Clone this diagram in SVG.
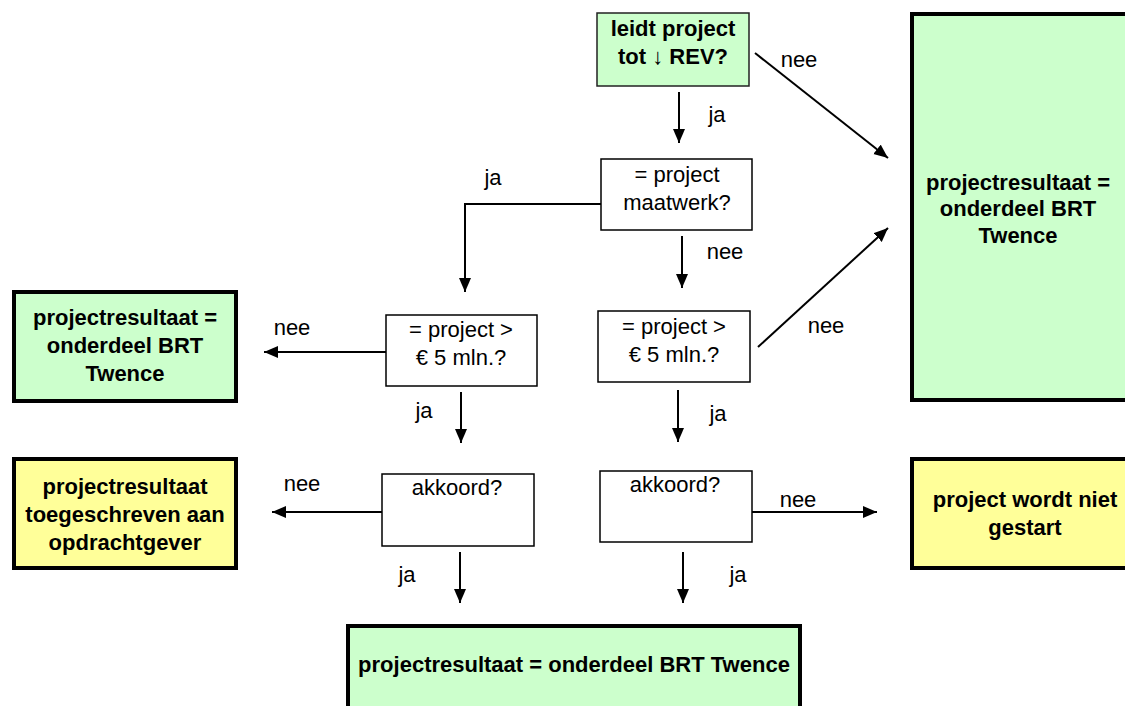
<svg xmlns="http://www.w3.org/2000/svg" width="1125" height="706" viewBox="0 0 1125 706">
<style>
text{font-family:"Liberation Sans",Arial,sans-serif;font-size:22px;fill:#000;text-anchor:middle}
.b{font-weight:bold}
.thick{stroke:#000;stroke-width:4}
.green{fill:#ccffcc}
.yellow{fill:#ffff99}
.dec{fill:#fff;stroke:#000;stroke-width:1.5}
.top{fill:#ccffcc;stroke:#222;stroke-width:1.5}
.conn line,.conn polyline{stroke:#000;stroke-width:2;fill:none;marker-end:url(#ah)}
</style>
<defs>
<marker id="ah" markerUnits="userSpaceOnUse" markerWidth="16" markerHeight="14" refX="14" refY="6" orient="auto">
<path d="M0,0 L14,6 L0,12 z" fill="#000"/>
</marker>
</defs>
<rect width="1125" height="706" fill="#fff"/>
<g class="conn">
<line x1="679" y1="92" x2="679" y2="143"/>
<line x1="755" y1="53" x2="888" y2="158"/>
<polyline points="601,204 465,204 465,292"/>
<line x1="682" y1="236" x2="682" y2="288"/>
<line x1="386" y1="352" x2="264" y2="352"/>
<line x1="758" y1="347" x2="888" y2="228"/>
<line x1="461" y1="392" x2="461" y2="443"/>
<line x1="678" y1="390" x2="678" y2="442"/>
<line x1="382" y1="512" x2="272" y2="512"/>
<line x1="752" y1="512" x2="877" y2="512"/>
<line x1="460" y1="552" x2="460" y2="603"/>
<line x1="683" y1="552" x2="683" y2="603"/>
</g>
<g id="labels">
<text x="717" y="122">ja</text>
<text x="799" y="67">nee</text>
<text x="493" y="185">ja</text>
<text x="725" y="259">nee</text>
<text x="292" y="335">nee</text>
<text x="826" y="333">nee</text>
<text x="424" y="418">ja</text>
<text x="718" y="421">ja</text>
<text x="302" y="491">nee</text>
<text x="798" y="507">nee</text>
<text x="407" y="582">ja</text>
<text x="738" y="582">ja</text>
</g>
<g id="n-start">
<rect class="top" x="597" y="13" width="152" height="73"/>
<text class="b" x="673" y="36">leidt project</text>
<text class="b" x="673" y="64">tot ↓ REV?</text>
</g>
<g id="n-maatwerk">
<rect class="dec" x="601" y="159" width="151" height="71"/>
<text x="677" y="182">= project</text>
<text x="677" y="210">maatwerk?</text>
</g>
<g id="n-mln-left">
<rect class="dec" x="386" y="315" width="151" height="71"/>
<text x="461" y="337">= project &gt;</text>
<text x="461" y="365">€ 5 mln.?</text>
</g>
<g id="n-mln-right">
<rect class="dec" x="598" y="311" width="152" height="71"/>
<text x="674" y="334">= project &gt;</text>
<text x="674" y="362">€ 5 mln.?</text>
</g>
<g id="n-akkoord-left">
<rect class="dec" x="382" y="474" width="152" height="72"/>
<text x="457" y="495">akkoord?</text>
</g>
<g id="n-akkoord-right">
<rect class="dec" x="600" y="471" width="152" height="71"/>
<text x="675" y="492">akkoord?</text>
</g>
<g id="n-brt-right">
<rect class="thick green" x="912" y="14" width="220" height="386"/>
<text class="b" x="1018" y="190">projectresultaat =</text>
<text class="b" x="1018" y="216">onderdeel BRT</text>
<text class="b" x="1018" y="243">Twence</text>
</g>
<g id="n-brt-left">
<rect class="thick green" x="14" y="292" width="222" height="109"/>
<text class="b" x="125" y="325">projectresultaat =</text>
<text class="b" x="125" y="353">onderdeel BRT</text>
<text class="b" x="125" y="381">Twence</text>
</g>
<g id="n-opdrachtgever">
<rect class="thick yellow" x="14" y="459" width="222" height="109"/>
<text class="b" x="125" y="494">projectresultaat</text>
<text class="b" x="125" y="522">toegeschreven aan</text>
<text class="b" x="125" y="550">opdrachtgever</text>
</g>
<g id="n-niet-gestart">
<rect class="thick yellow" x="912" y="459" width="220" height="109"/>
<text class="b" x="1025" y="507">project wordt niet</text>
<text class="b" x="1025" y="535">gestart</text>
</g>
<g id="n-brt-bottom">
<rect class="thick green" x="348" y="626" width="452" height="100"/>
<text class="b" x="574" y="672">projectresultaat = onderdeel BRT Twence</text>
</g>
</svg>
